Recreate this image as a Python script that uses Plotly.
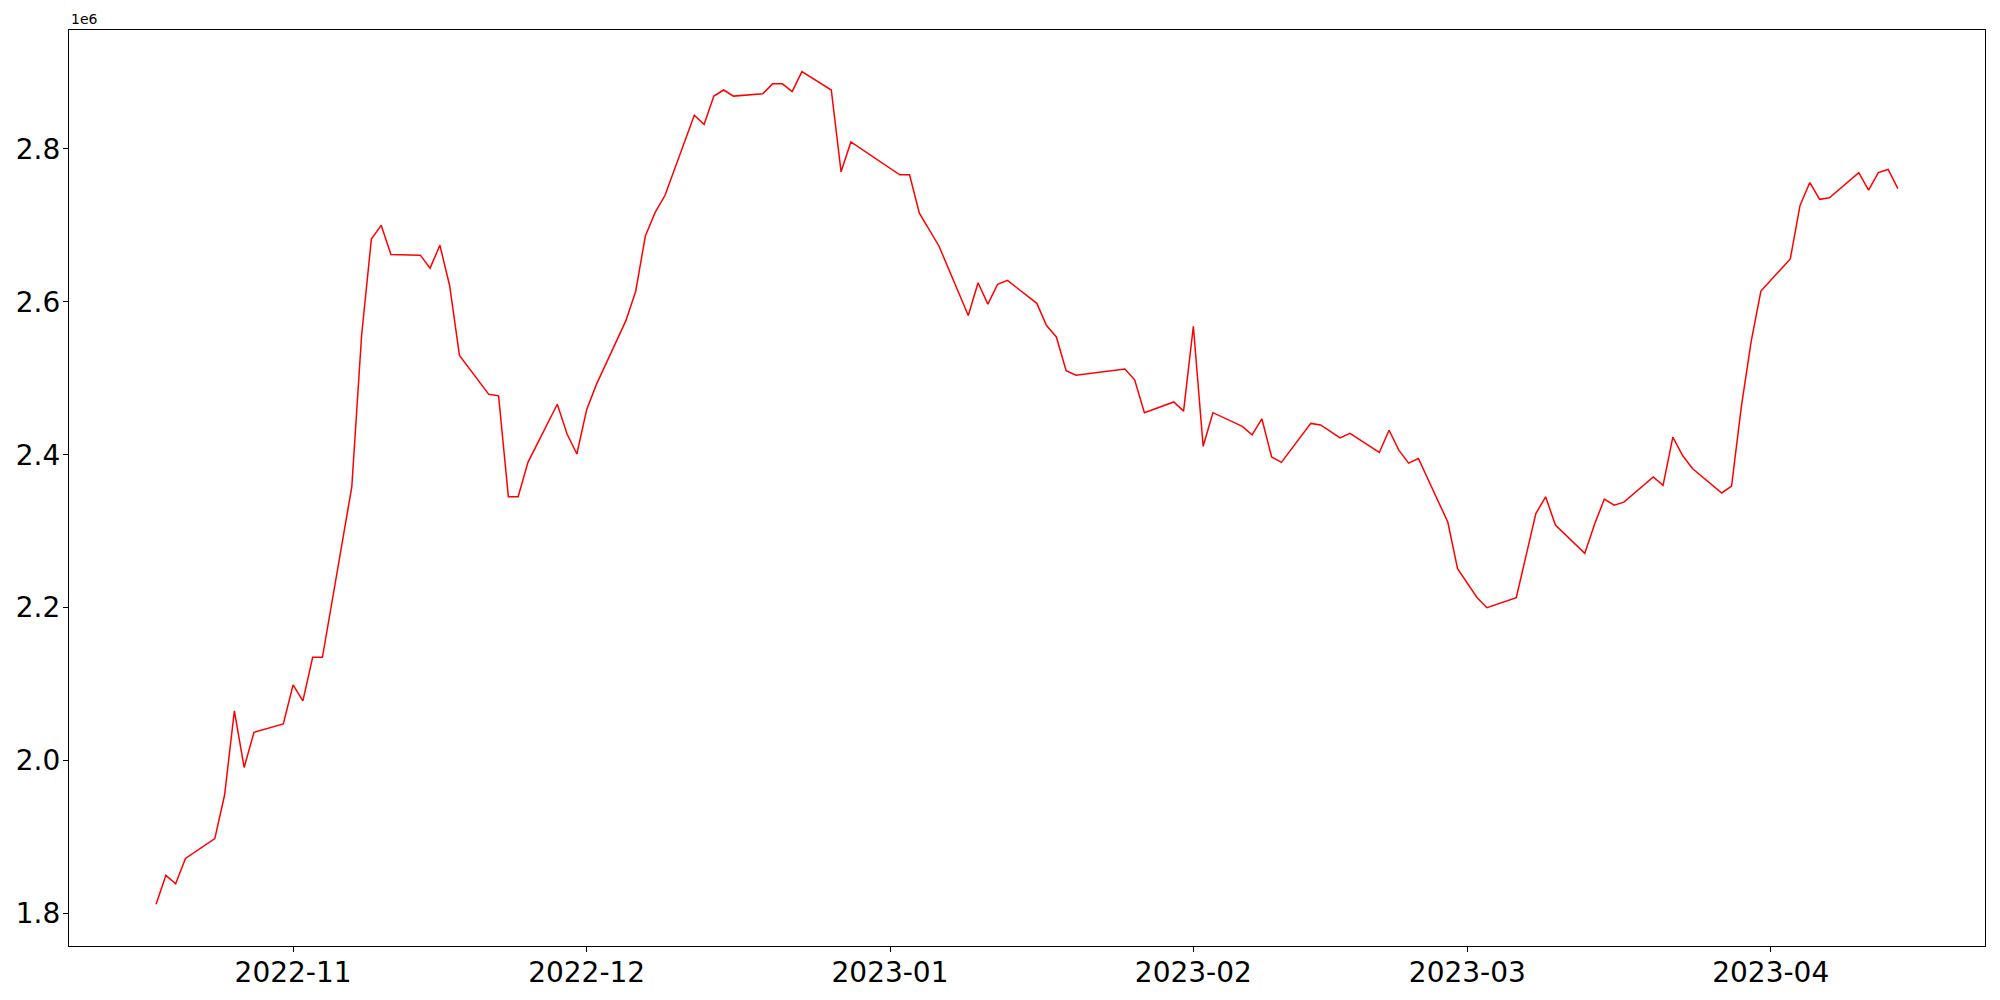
import plotly.graph_objects as go
import pandas as pd

dates = [
    "2022-10-18", "2022-10-19", "2022-10-20", "2022-10-21",
    "2022-10-24", "2022-10-25", "2022-10-26", "2022-10-27", "2022-10-28",
    "2022-10-31", "2022-11-01", "2022-11-02", "2022-11-03", "2022-11-04",
    "2022-11-07", "2022-11-08", "2022-11-09", "2022-11-10", "2022-11-11",
    "2022-11-14", "2022-11-15", "2022-11-16", "2022-11-17", "2022-11-18",
    "2022-11-21", "2022-11-22", "2022-11-23", "2022-11-24", "2022-11-25",
    "2022-11-28", "2022-11-29", "2022-11-30", "2022-12-01", "2022-12-02",
    "2022-12-05", "2022-12-06", "2022-12-07", "2022-12-08", "2022-12-09",
    "2022-12-12", "2022-12-13", "2022-12-14", "2022-12-15", "2022-12-16",
    "2022-12-19", "2022-12-20", "2022-12-21", "2022-12-22", "2022-12-23",
    "2022-12-26", "2022-12-27", "2022-12-28",
    "2023-01-02", "2023-01-03", "2023-01-04", "2023-01-06",
    "2023-01-09", "2023-01-10", "2023-01-11", "2023-01-12", "2023-01-13",
    "2023-01-16", "2023-01-17", "2023-01-18", "2023-01-19", "2023-01-20",
    "2023-01-25", "2023-01-26", "2023-01-27",
    "2023-01-30", "2023-01-31", "2023-02-01", "2023-02-02", "2023-02-03",
    "2023-02-06", "2023-02-07", "2023-02-08", "2023-02-09", "2023-02-10",
    "2023-02-13", "2023-02-14", "2023-02-16", "2023-02-17",
    "2023-02-20", "2023-02-21", "2023-02-22", "2023-02-23", "2023-02-24",
    "2023-02-27", "2023-02-28", "2023-03-02", "2023-03-03",
    "2023-03-06", "2023-03-08", "2023-03-09", "2023-03-10",
    "2023-03-13", "2023-03-14", "2023-03-15", "2023-03-16", "2023-03-17",
    "2023-03-20", "2023-03-21", "2023-03-22", "2023-03-23", "2023-03-24",
    "2023-03-27", "2023-03-28", "2023-03-29", "2023-03-30", "2023-03-31",
    "2023-04-03", "2023-04-04", "2023-04-05", "2023-04-06", "2023-04-07",
    "2023-04-10", "2023-04-11", "2023-04-12", "2023-04-13", "2023-04-14",
]

values_millions = [
    1.812, 1.850, 1.839, 1.872,
    1.898, 1.955, 2.065, 1.991, 2.037,
    2.048, 2.099, 2.078, 2.135, 2.135,
    2.358, 2.556, 2.682, 2.700, 2.662,
    2.661, 2.644, 2.674, 2.621, 2.530,
    2.479, 2.477, 2.345, 2.345, 2.390,
    2.466, 2.427, 2.401, 2.459, 2.492,
    2.575, 2.613, 2.686, 2.717, 2.739,
    2.844, 2.832, 2.869, 2.877, 2.869,
    2.872, 2.885, 2.885, 2.875, 2.901,
    2.877, 2.770, 2.809,
    2.766, 2.766, 2.716, 2.673,
    2.582, 2.625, 2.597, 2.623, 2.628,
    2.598, 2.569, 2.554, 2.510, 2.504,
    2.512, 2.498, 2.455,
    2.469, 2.457, 2.568, 2.411, 2.455,
    2.437, 2.426, 2.447, 2.397, 2.390,
    2.441, 2.439, 2.422, 2.428,
    2.403, 2.432, 2.406, 2.389, 2.395,
    2.312, 2.251, 2.213, 2.200,
    2.213, 2.323, 2.345, 2.308,
    2.271, 2.309, 2.342, 2.334, 2.338,
    2.371, 2.360, 2.423, 2.399, 2.382,
    2.350, 2.359, 2.463, 2.548, 2.614,
    2.656, 2.726, 2.756, 2.734, 2.736,
    2.769, 2.746, 2.769, 2.773, 2.748,
]

y_tick_labels = ["1.8", "2.0", "2.2", "2.4", "2.6", "2.8"]
x_tick_dates = ["2022-11-01", "2022-12-01", "2023-01-01", "2023-02-01", "2023-03-01", "2023-04-01"]
offset_label = "1e6"
scale = 1e6

x = pd.to_datetime(dates)
y = [v * scale for v in values_millions]

# matplotlib-like 5% margins
xspan = x.max() - x.min()
xr = [x.min() - 0.05 * xspan, x.max() + 0.05 * xspan]
yspan = max(y) - min(y)
yr = [min(y) - 0.05 * yspan, max(y) + 0.05 * yspan]

fig = go.Figure()
fig.add_trace(go.Scatter(x=x, y=y, mode="lines",
                         line=dict(color="#ff0000", width=1.5),
                         showlegend=False, hoverinfo="x+y"))

axis_common = dict(showline=True, linecolor="black", linewidth=1.2, mirror=True,
                   ticks="outside", ticklen=5, tickwidth=1.2, tickcolor="black",
                   showgrid=False, zeroline=False,
                   tickfont=dict(family="DejaVu Sans", size=28, color="black"))

fig.update_xaxes(range=xr, tickvals=pd.to_datetime(x_tick_dates), tickformat="%Y-%m",
                 ticklabelstandoff=-4, **axis_common)
fig.update_yaxes(range=yr, tickvals=[float(t) * scale for t in y_tick_labels],
                 ticktext=y_tick_labels, ticklabelstandoff=-3, **axis_common)

fig.add_annotation(text=offset_label, xref="paper", yref="paper", x=0, y=1,
                   xanchor="left", yanchor="bottom", showarrow=False,
                   font=dict(family="DejaVu Sans", size=14, color="black"), yshift=1)

# page body has an 8px default margin; size the figure so the axes land where the reference has them
fig.update_layout(width=1984, height=984, plot_bgcolor="white", paper_bgcolor="white",
                  margin=dict(l=61, r=7, t=22, b=46, autoexpand=False),
                  font=dict(family="DejaVu Sans"))

fig.write_html("out.html")
